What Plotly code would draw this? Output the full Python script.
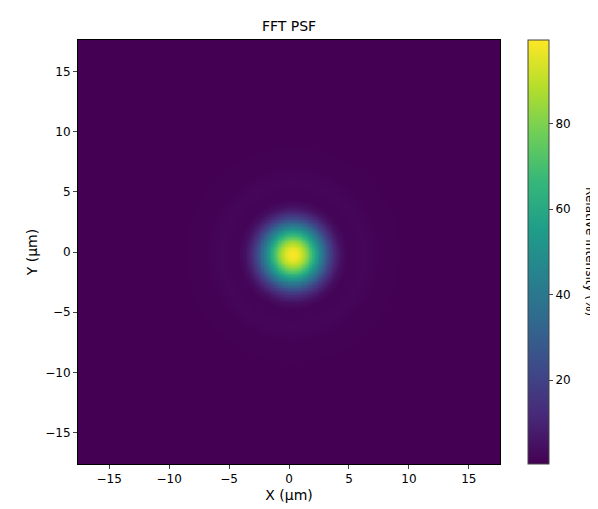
import numpy as np
import plotly.graph_objects as go

# Radial intensity profile (%)
radius_um = [0, 0.5, 1, 1.5, 2, 2.5, 3, 3.5, 4, 4.5, 5, 5.5, 6, 6.5, 7, 7.5, 8, 8.5, 9, 10, 12, 15, 25]
intensity_pct = [100, 96, 86, 71, 54, 37, 22, 11, 4.5, 1.6, 1.2, 1.8, 2.0, 1.6, 0.9, 0.6, 0.8, 0.7, 0.5, 0.45, 0.42, 0.4, 0.4]
center_um = [0.3, -0.2]
extent_um = 17.6
cbar_ticks = [20, 40, 60, 80]

n = 300
coords = np.linspace(-extent_um, extent_um, n)
X, Y = np.meshgrid(coords, coords)
R = np.hypot(X - center_um[0], Y - center_um[1])
Z = np.interp(R, radius_um, intensity_pct)

ticks = [-15, -10, -5, 0, 5, 10, 15]
tick_text = ["−15", "−10", "−5", "0", "5", "10", "15"]

fig = go.Figure(go.Heatmap(
    x=coords, y=coords, z=Z, colorscale="Viridis", zmin=0.4, zmax=99.6, zsmooth="best",
    colorbar=dict(x=1.066, xanchor="left", thickness=21, len=1, lenmode="fraction",
                  y=0.5, yanchor="middle", xpad=0, ypad=0,
                  tickvals=cbar_ticks, ticks="outside", ticklen=4, outlinewidth=1,
                  tickfont=dict(size=12)),
))
fig.update_layout(
    width=598, height=509, margin=dict(l=70, r=106, t=32, b=53, autoexpand=False),
    paper_bgcolor="white", plot_bgcolor="white",
    font=dict(family="DejaVu Sans", size=12, color="black"),
    title=dict(text="FFT PSF", x=(70 + 211) / 598, xanchor="center", y=1 - 18 / 509, yanchor="middle",
               font=dict(size=14)),
    xaxis=dict(title=dict(text="X (µm)", standoff=4), range=[-extent_um, extent_um], automargin=False,
               tickvals=ticks, ticktext=tick_text,
               ticks="outside", ticklen=4, showgrid=False, zeroline=False, showline=True,
               linecolor="black", mirror=True),
    yaxis=dict(title=dict(text="Y (µm)", standoff=4), range=[-extent_um, extent_um], automargin=False,
               tickvals=ticks, ticktext=tick_text,
               ticks="outside", ticklen=4, showgrid=False, zeroline=False, showline=True,
               linecolor="black", mirror=True),
    annotations=[dict(text="Relative Intensity (%)", textangle=90, x=1.213, xanchor="center",
                      y=0.5, xref="paper", yref="paper", showarrow=False, font=dict(size=12))],
)
fig.write_html("out.html")
